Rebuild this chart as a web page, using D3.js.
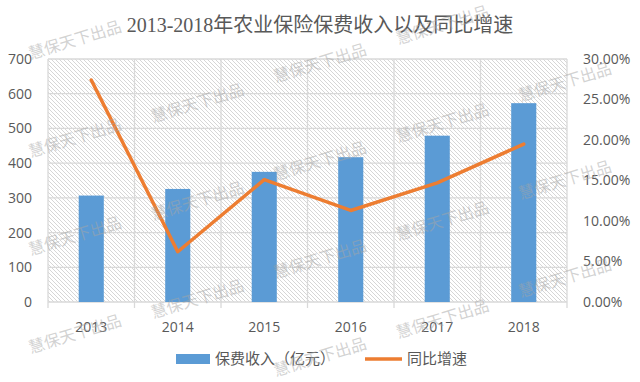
<!DOCTYPE html>
<html>
<head>
<meta charset="utf-8">
<script src="https://cdn.jsdelivr.net/npm/d3@7"></script>
<style>
  html, body { margin: 0; padding: 0; background: #fff; }
  svg { display: block; }
</style>
</head>
<body>
<svg id="chart" width="640" height="382"></svg>
<script>
// data
const years = ['2013', '2014', '2015', '2016', '2017', '2018'];
const premium = [306.6, 325.7, 374.9, 417.1, 479.1, 572.7];   // 亿元
const growth = [0.274, 0.062, 0.151, 0.113, 0.147, 0.195];    // 同比增速
const leftTicks = [0, 100, 200, 300, 400, 500, 600, 700];
const rightTicks = [0, 0.05, 0.10, 0.15, 0.20, 0.25, 0.30];

const titleText = '2013-2018年农业保险保费收入以及同比增速';
const seriesNames = ['保费收入（亿元）', '同比增速'];
const watermark = '慧保天下出品';

const svg = d3.select('#chart');
const width = +svg.attr('width');
const height = +svg.attr('height');

const margin = { top: 59, right: 73, bottom: 80, left: 48 };
const x0 = margin.left, x1 = width - margin.right;
const y0 = height - margin.bottom, y1 = margin.top;

const labelFont = '"Open Sans", "Noto Sans", sans-serif';
const cjkFont = '"Noto Sans CJK SC", sans-serif';
const grey = '#595959';

//
// scales
//
const x = d3.scaleBand().domain(years).range([x0, x1]).padding(0);
const yL = d3.scaleLinear().domain([0, 700]).range([y0, y1]);
const yR = d3.scaleLinear().domain([0, 0.30]).range([y0, y1]);

// hatch pattern for the plot background
const defs = svg.append('defs');
const pat = defs.append('pattern')
  .attr('id', 'hatch')
  .attr('patternUnits', 'userSpaceOnUse')
  .attr('width', 4)
  .attr('height', 4);
pat.append('rect').attr('width', 4).attr('height', 4).attr('fill', '#fff');
pat.append('path')
  .attr('d', 'M-1,-1 L5,5 M3,-1 L5,1 M-1,3 L1,5')
  .attr('stroke', '#d6d6d6')
  .attr('stroke-width', 1);

svg.append('rect')
  .attr('x', x0).attr('y', y1)
  .attr('width', x1 - x0).attr('height', y0 - y1)
  .attr('fill', 'url(#hatch)');

//
// gridlines
//
const grid = svg.append('g').attr('stroke', '#d9d9d9').attr('stroke-width', 1.3);
grid.selectAll('line.h')
  .data(leftTicks)
  .join('line')
  .attr('x1', x0).attr('x2', x1)
  .attr('y1', d => yL(d)).attr('y2', d => yL(d));

const bounds = years.map(d => x(d)).concat([x1]);
grid.selectAll('line.v')
  .data(bounds)
  .join('line')
  .attr('x1', d => d).attr('x2', d => d)
  .attr('y1', y1).attr('y2', y0 + 6);

//
// axes
//
const axisL = svg.append('g')
  .attr('transform', `translate(${x0 - 16},0)`)
  .call(d3.axisLeft(yL).tickValues(leftTicks).tickSize(0).tickPadding(0));
axisL.select('.domain').remove();
axisL.selectAll('text')
  .attr('fill', grey)
  .style('font-family', labelFont)
  .style('font-size', '14px');

const axisR = svg.append('g')
  .attr('transform', `translate(${x1 + 16},0)`)
  .call(d3.axisRight(yR).tickValues(rightTicks).tickSize(0).tickPadding(0)
    .tickFormat(d3.format('.2%')));
axisR.select('.domain').remove();
axisR.selectAll('text')
  .attr('fill', grey)
  .style('font-family', labelFont)
  .style('font-size', '14px');

const axisB = svg.append('g')
  .attr('transform', `translate(0,${y0})`)
  .call(d3.axisBottom(x).tickSize(0).tickPadding(20));
axisB.select('.domain').remove();
axisB.selectAll('text')
  .attr('fill', grey)
  .style('font-family', labelFont)
  .style('font-size', '14px');

//
// bars
//
const barW = x.bandwidth() * 0.29;
svg.append('g')
  .selectAll('rect')
  .data(years)
  .join('rect')
  .attr('x', (d, i) => x(d) + x.bandwidth() / 2 - barW / 2)
  .attr('y', (d, i) => yL(premium[i]))
  .attr('width', barW)
  .attr('height', (d, i) => y0 - yL(premium[i]))
  .attr('fill', '#5b9bd5');

//
// growth line
//
const line = d3.line()
  .x((d, i) => x(years[i]) + x.bandwidth() / 2)
  .y(d => yR(d));
svg.append('path')
  .datum(growth)
  .attr('d', line)
  .attr('fill', 'none')
  .attr('stroke', '#ed7d31')
  .attr('stroke-width', 3.5)
  .attr('stroke-linejoin', 'round')
  .attr('stroke-linecap', 'round');

//
// title
//
svg.append('text')
  .attr('x', width / 2)
  .attr('y', 32)
  .attr('text-anchor', 'middle')
  .attr('fill', grey)
  .style('font-family', '"Liberation Serif", "Noto Sans CJK SC", serif')
  .style('font-size', '20px')
  .text(titleText);

//
// legend
//
const legend = svg.append('g').attr('transform', 'translate(0,359)');
legend.append('rect')
  .attr('x', 176).attr('y', -5).attr('width', 34).attr('height', 10)
  .attr('fill', '#5b9bd5');
legend.append('text')
  .attr('x', 215).attr('y', 0).attr('dy', '0.35em')
  .attr('fill', grey)
  .style('font-family', cjkFont).style('font-size', '15px')
  .text(seriesNames[0]);
legend.append('line')
  .attr('x1', 365).attr('x2', 402).attr('y1', 0).attr('y2', 0)
  .attr('stroke', '#ed7d31').attr('stroke-width', 3.5);
legend.append('text')
  .attr('x', 407).attr('y', 0).attr('dy', '0.35em')
  .attr('fill', grey)
  .style('font-family', cjkFont).style('font-size', '15px')
  .text(seriesNames[1]);

//
// watermark tiles (only the ones whose middle sits inside the picture)
//
const colOffsets = [40, 5, 63, 25, 82];
const marks = [];
colOffsets.forEach((off, i) => {
  for (let yy = off; yy < height; yy += 98) {
    if (yy >= 14 && yy <= height - 14) marks.push({ cx: 75 + 122.5 * i, cy: yy });
  }
});
svg.append('g')
  .attr('pointer-events', 'none')
  .selectAll('text')
  .data(marks)
  .join('text')
  .attr('transform', d => `translate(${d.cx},${d.cy}) rotate(-17)`)
  .attr('text-anchor', 'middle')
  .attr('dy', '0.35em')
  .attr('fill', '#a6a6a6')
  .attr('fill-opacity', 0.5)
  .style('font-family', cjkFont)
  .style('font-size', '16px')
  .text(watermark);
</script>
</body>
</html>
